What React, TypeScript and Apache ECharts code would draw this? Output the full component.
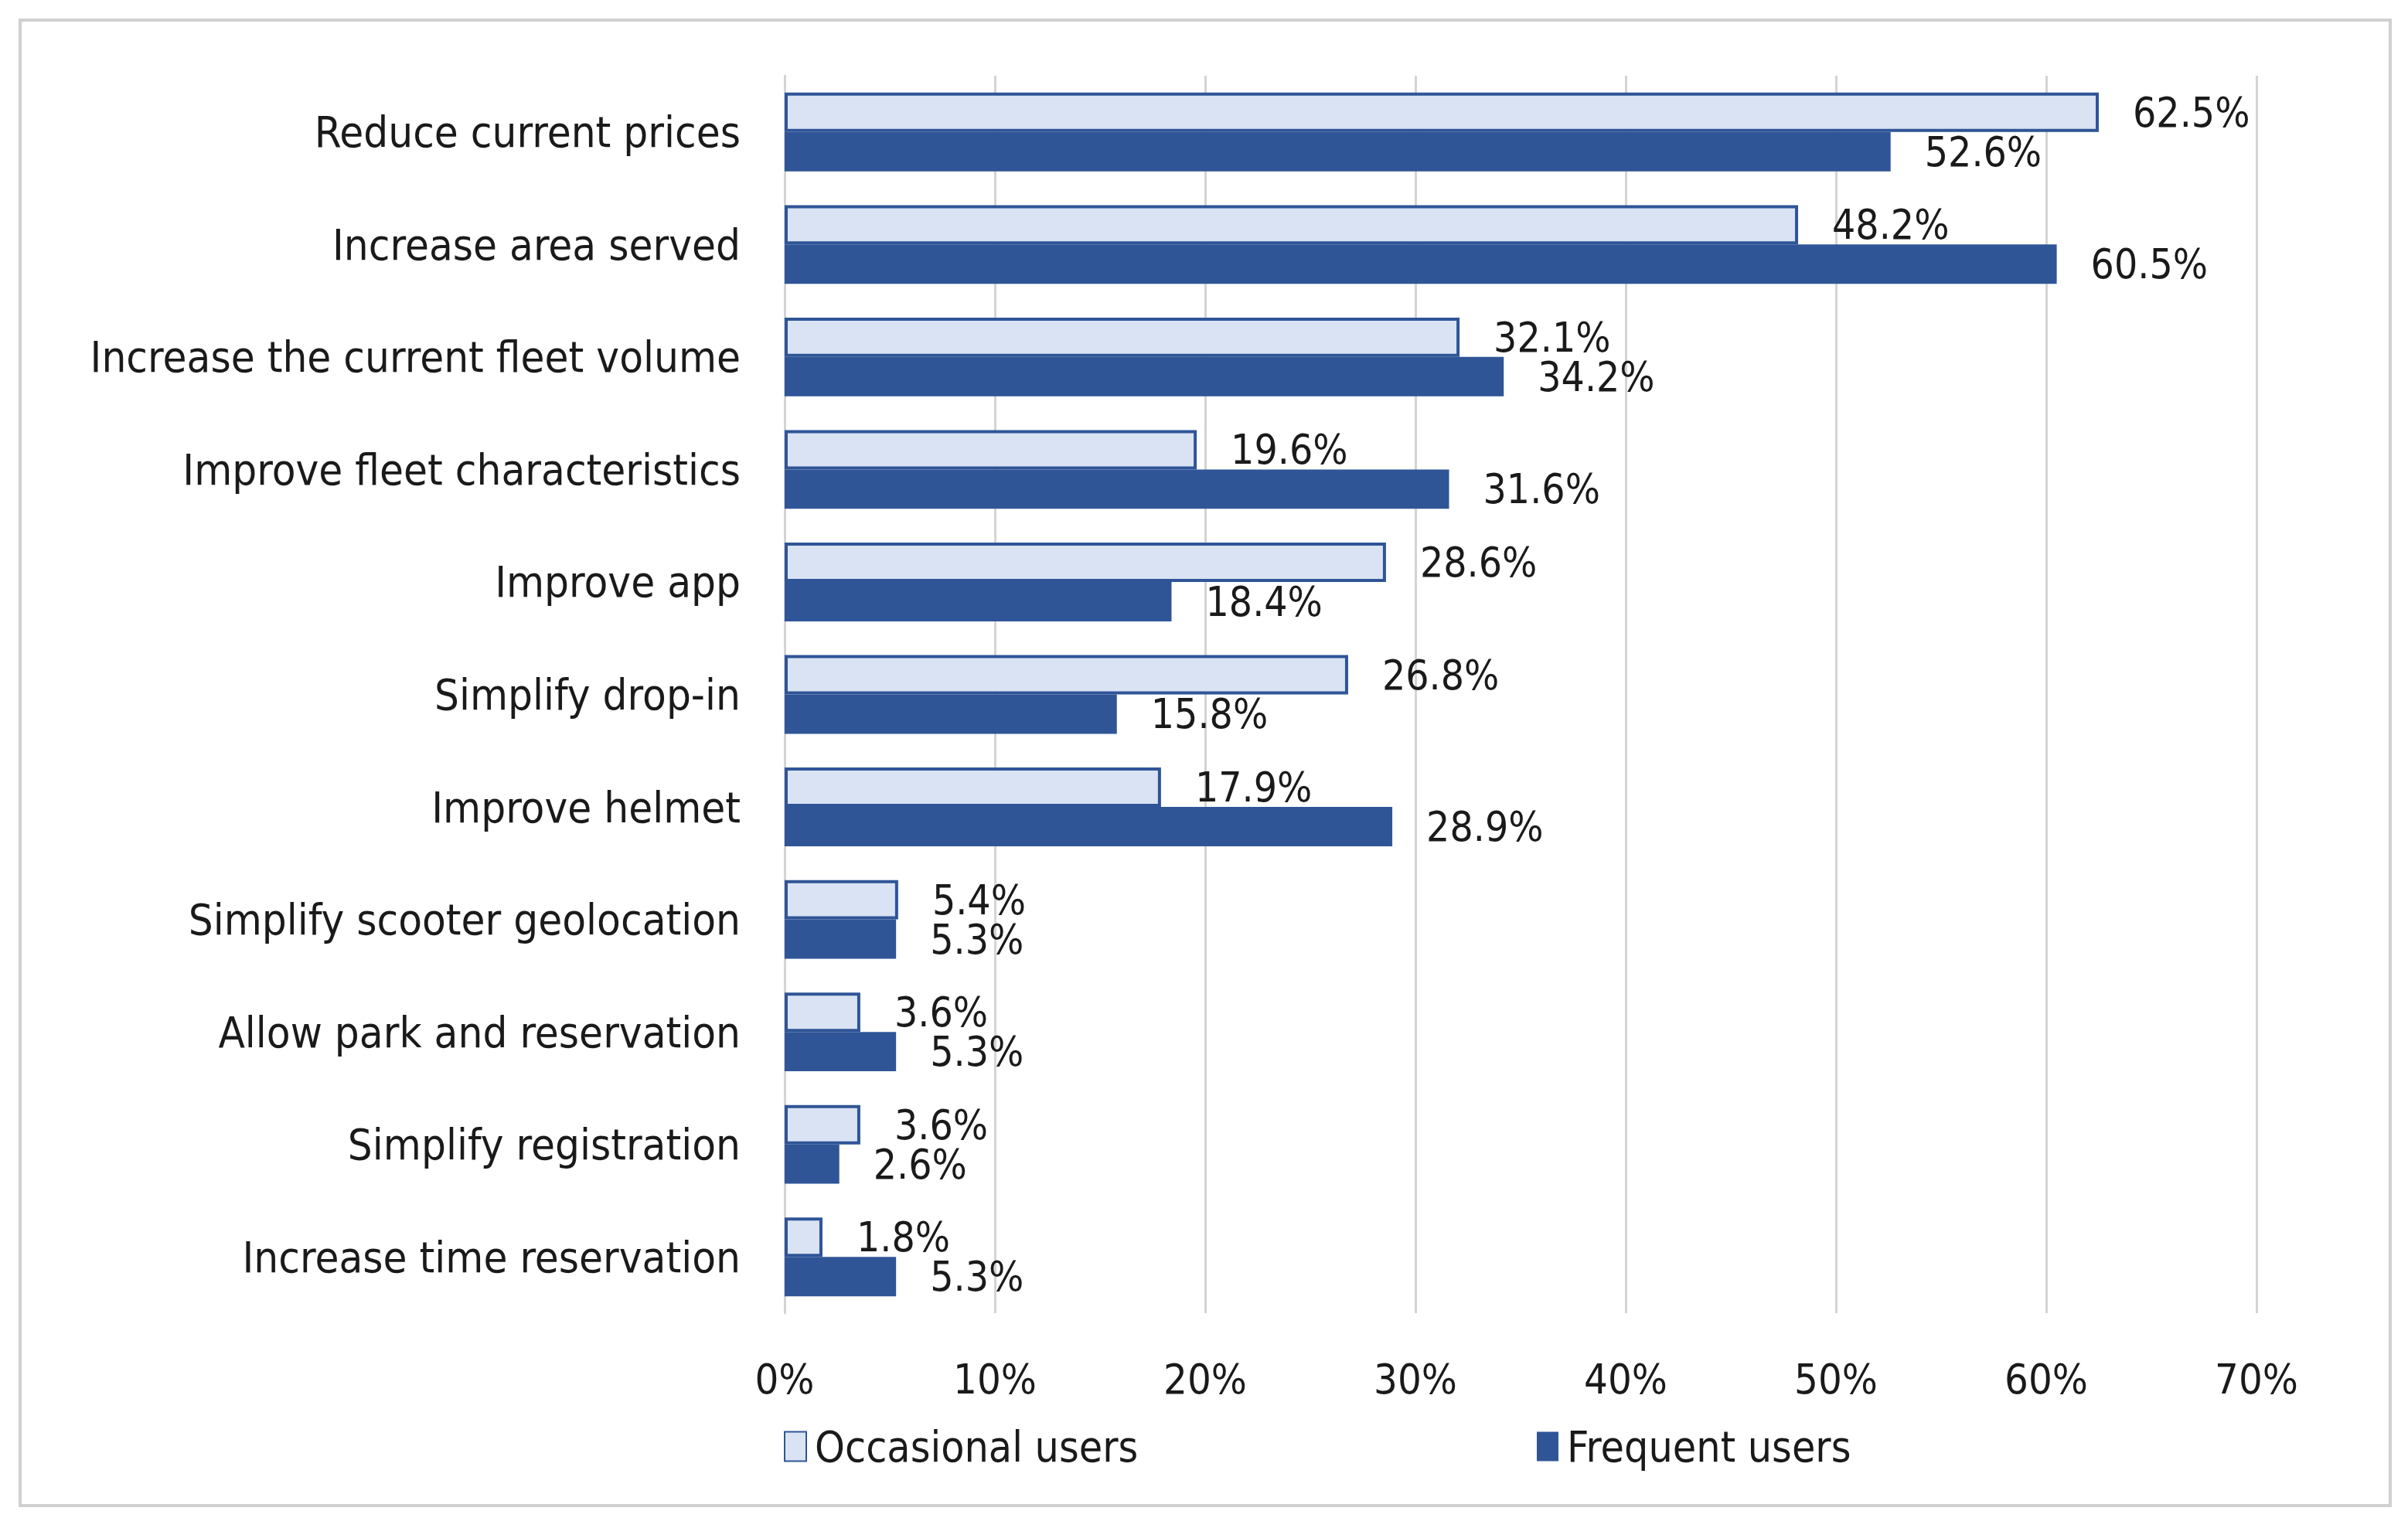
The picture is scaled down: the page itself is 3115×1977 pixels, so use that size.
import React, { useEffect, useRef } from "react";
import * as echarts from "echarts";

const categories = [
  "Reduce current prices",
  "Increase area served",
  "Increase the current fleet volume",
  "Improve fleet characteristics",
  "Improve app",
  "Simplify drop-in",
  "Improve helmet",
  "Simplify scooter geolocation",
  "Allow park and reservation",
  "Simplify registration",
  "Increase time reservation",
];
const occasionalUsers = [62.5, 48.2, 32.1, 19.6, 28.6, 26.8, 17.9, 5.4, 3.6, 3.6, 1.8];
const frequentUsers = [52.6, 60.5, 34.2, 31.6, 18.4, 15.8, 28.9, 5.3, 5.3, 2.6, 5.3];
const seriesNames = ["Occasional users", "Frequent users"];

const FONT = "'Liberation Sans Narrow', 'DejaVu Sans Condensed', 'Open Sans', sans-serif";
const DARK = "#2F5597";
const LIGHT = "#DAE3F3";
const TEXT = "#1a1a1a";
const GRID = "#D4D4D4";

export default function App() {
  const ref = useRef<HTMLDivElement>(null);
  useEffect(() => {
    document.body.style.margin = "0";
    if (!ref.current) return;
    const chart = echarts.init(ref.current, undefined, { renderer: "svg" });
    const label = {
      show: true,
      position: "right",
      distance: 44,
      fontFamily: FONT,
      fontSize: 53,
      color: TEXT,
      formatter: (p: any) => `${Number(p.value).toFixed(1)}%`,
    };
    const legendText = { fontFamily: FONT, fontSize: 55, color: TEXT, padding: [0, 0, 0, 6] };
    chart.setOption({
      animation: false,
      backgroundColor: "#ffffff",
      textStyle: { fontFamily: FONT },
      graphic: [
        {
          type: "rect",
          shape: { x: 26, y: 26, width: 3066, height: 1922 },
          style: { fill: "none", stroke: "#D0D0D0", lineWidth: 4 },
          silent: true,
        },
      ],
      legend: [
        {
          data: [seriesNames[0]],
          left: 1009,
          top: 1873 - 34,
          itemWidth: 28,
          itemHeight: 38,
          itemGap: 10,
          textStyle: legendText,
          icon: "rect",
        },
        {
          data: [seriesNames[1]],
          left: 1983,
          top: 1873 - 34,
          itemWidth: 28,
          itemHeight: 38,
          itemGap: 10,
          textStyle: legendText,
          icon: "rect",
        },
      ],
      grid: { left: 1015, right: 3115 - 2919, top: 98, bottom: 1977 - 1699, containLabel: false },
      xAxis: {
        type: "value",
        min: 0,
        max: 70,
        interval: 10,
        axisLine: { show: false },
        axisTick: { show: false },
        splitLine: { show: true, lineStyle: { color: GRID, width: 3 } },
        axisLabel: {
          formatter: "{value}%",
          margin: 58,
          fontFamily: FONT,
          fontSize: 54,
          color: TEXT,
        },
      },
      yAxis: {
        type: "category",
        data: categories,
        inverse: true,
        axisLine: { show: true, lineStyle: { color: GRID, width: 3 } },
        axisTick: { show: false },
        axisLabel: { margin: 57, fontFamily: FONT, fontSize: 56, color: TEXT },
      },
      series: [
        {
          name: seriesNames[0],
          type: "bar",
          data: occasionalUsers,
          barGap: "0%",
          barCategoryGap: "30%",
          itemStyle: { color: LIGHT, borderColor: DARK, borderWidth: 4 },
          label,
        },
        {
          name: seriesNames[1],
          type: "bar",
          data: frequentUsers,
          barGap: "0%",
          barCategoryGap: "30%",
          itemStyle: { color: DARK },
          label,
        },
      ],
    });
    return () => chart.dispose();
  }, []);
  return <div ref={ref} style={{ width: 3115, height: 1977 }} />;
}
